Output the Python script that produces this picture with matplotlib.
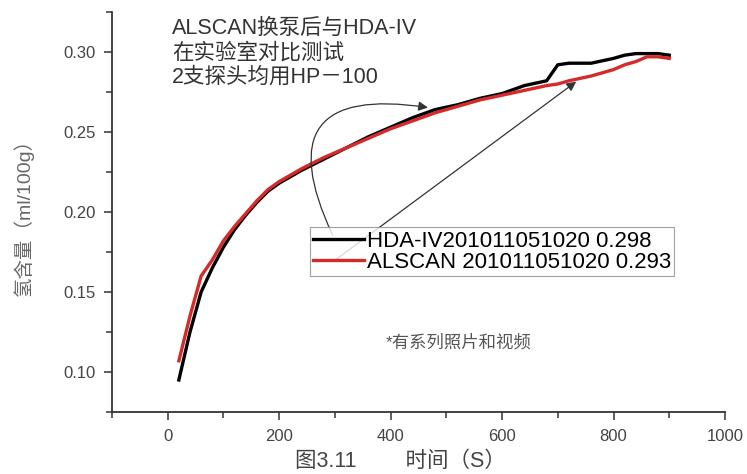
import matplotlib.pyplot as plt
import numpy as np
from matplotlib.ticker import MultipleLocator

plt.rcParams['font.family'] = ['Liberation Sans', 'Noto Sans CJK SC', 'DejaVu Sans']

# time (s)
t = [20, 40, 60, 80, 100, 120, 140, 160, 180, 200, 240, 280, 320, 360, 400,
     440, 480, 520, 560, 600, 640, 680, 700, 720, 760, 800, 820, 840, 860, 880, 900]
# HDA-IV readings
hda = [0.095, 0.125, 0.150, 0.165, 0.178, 0.189, 0.198, 0.206, 0.213, 0.218,
       0.226, 0.233, 0.240, 0.247, 0.253, 0.259, 0.264, 0.267, 0.271, 0.274,
       0.279, 0.282, 0.292, 0.293, 0.293, 0.296, 0.298, 0.299, 0.299, 0.299, 0.298]
# ALSCAN readings
alscan = [0.107, 0.135, 0.160, 0.170, 0.182, 0.191, 0.199, 0.207, 0.214, 0.219,
          0.227, 0.234, 0.240, 0.246, 0.252, 0.257, 0.262, 0.266, 0.270, 0.273,
          0.276, 0.279, 0.280, 0.282, 0.285, 0.289, 0.292, 0.294, 0.297, 0.297, 0.296]

gray = '#333333'
fig = plt.figure(figsize=(7.47, 4.74), dpi=100)
ax = fig.add_axes([0.1499, 0.1308, 0.8206, 0.8439])

ax.plot(t, hda, color='black', lw=2.4, label='HDA-IV201011051020 0.298')
ax.plot(t, alscan, color='#d42a2a', lw=2.4, label='ALSCAN 201011051020 0.293')

ax.set_xlim(-100, 1000)
ax.set_ylim(0.075, 0.325)
ax.xaxis.set_major_locator(MultipleLocator(200))
ax.xaxis.set_minor_locator(MultipleLocator(100))
ax.yaxis.set_major_locator(MultipleLocator(0.05))
ax.yaxis.set_minor_locator(MultipleLocator(0.025))
ax.set_yticks([0.10, 0.15, 0.20, 0.25, 0.30])
ax.set_yticklabels(['0.10', '0.15', '0.20', '0.25', '0.30'])
ax.tick_params(which='both', direction='out', colors='#444444', labelsize=12, width=1.2)
ax.tick_params(which='major', length=6, pad=6)
ax.tick_params(which='minor', length=4)
ax.spines['top'].set_visible(False)
ax.spines['right'].set_visible(False)
for s in ['left', 'bottom']:
    ax.spines[s].set_linewidth(1.3)
    ax.spines[s].set_color('#333333')

ax.set_ylabel('氢含量（ml/100g）', color='#666666', fontsize=14)
ax.yaxis.set_label_coords(-0.128, 0.5)
ax.set_xlabel('图3.11　　 时间（S）', color='#444444', fontsize=15.5)
ax.xaxis.set_label_coords(0.47, -0.098)

leg = ax.legend(loc='upper left', bbox_to_anchor=(0.323, 0.462), fontsize=16,
                frameon=True, fancybox=False, edgecolor='#888888',
                handlelength=2.3, handletextpad=0.1, borderpad=0.15,
                labelspacing=0.0, borderaxespad=0)
leg.get_frame().set_linewidth(0.8)

ax.text(0.098, 0.985, 'ALSCAN换泵后与HDA-IV\n在实验室对比测试\n2支探头均用HP－100',
        transform=ax.transAxes, va='top', ha='left', fontsize=15.5,
        color=gray, linespacing=1.2)
ax.text(0.565, 0.175, '*有系列照片和视频', transform=ax.transAxes,
        ha='center', va='center', fontsize=12.5, color='#555555')

ax.annotate('', xy=(472, 0.265), xytext=(298, 0.184),
            arrowprops=dict(arrowstyle='-|>', color='#333333', lw=0.9,
                            connectionstyle='arc3,rad=-0.95', mutation_scale=14))
ax.annotate('', xy=(737, 0.2825), xytext=(293, 0.168),
            arrowprops=dict(arrowstyle='-|>', color='#333333', lw=0.9,
                            mutation_scale=14))

fig.savefig('out.png', dpi=100)
